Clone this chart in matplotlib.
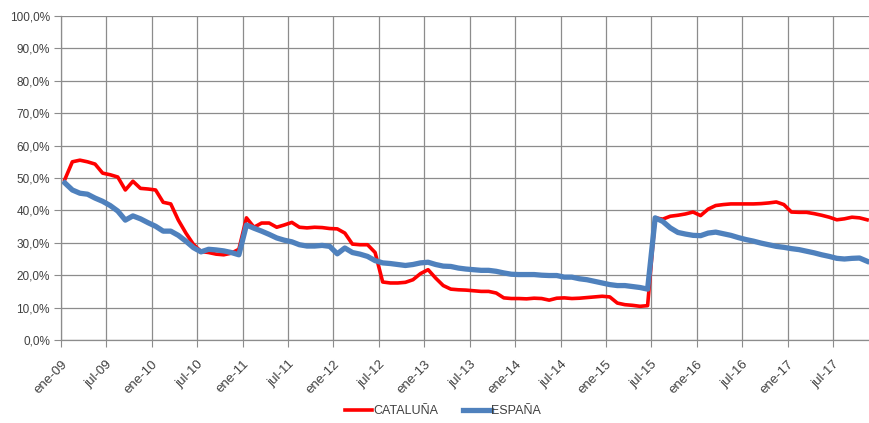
import numpy as np
import matplotlib
matplotlib.use("Agg")
import matplotlib.pyplot as plt
from matplotlib.ticker import FuncFormatter

# Monthly share (%), ene-09 .. nov-17
cataluna = [49.5, 55, 55.5, 55, 54.3, 51.5, 51, 50.3, 46.3, 49,
            46.8, 46.6, 46.3, 42.5, 42, 37, 33, 29.5, 27.3, 27,
            26.5, 26.3, 26.8, 28, 37.7, 34.8, 36.1, 36.1, 34.8, 35.5,
            36.3, 34.8, 34.6, 34.8, 34.7, 34.4, 34.3, 33, 29.6, 29.4,
            29.4, 27, 17.9, 17.6, 17.6, 17.8, 18.6, 20.5, 21.7, 19.1,
            16.8, 15.7, 15.5, 15.4, 15.2, 15, 15, 14.5, 13, 12.8,
            12.8, 12.7, 12.9, 12.8, 12.3, 12.9, 13, 12.8, 12.9, 13.1,
            13.3, 13.5, 13.3, 11.4, 10.9, 10.7, 10.4, 10.6, 37.7, 37.3,
            38.2, 38.5, 38.9, 39.5, 38.4, 40.4, 41.5, 41.8, 42, 42,
            42, 42, 42.1, 42.3, 42.6, 41.8, 39.5, 39.4, 39.4, 39,
            38.5, 37.9, 37.1, 37.4, 37.9, 37.7, 37.1]

espana = [48.5, 46.3, 45.3, 45, 43.8, 42.8, 41.5, 39.8, 37, 38.3,
          37.4, 36.2, 35.1, 33.6, 33.6, 32.3, 30.5, 28.5, 27.2, 28,
          27.8, 27.5, 27, 26.3, 35.5, 34.5, 33.6, 32.6, 31.5, 30.8,
          30.3, 29.4, 29, 29, 29.2, 28.9, 26.6, 28.4, 27, 26.5,
          25.8, 24.5, 23.8, 23.6, 23.3, 23, 23.3, 23.8, 24, 23.3,
          22.8, 22.7, 22.2, 21.9, 21.7, 21.5, 21.5, 21.2, 20.7, 20.3,
          20.2, 20.2, 20.2, 20, 19.9, 19.9, 19.4, 19.4, 18.9, 18.6,
          18.1, 17.6, 17.1, 16.8, 16.8, 16.5, 16.2, 15.7, 37.7, 36.6,
          34.6, 33.2, 32.7, 32.3, 32.2, 33, 33.3, 32.8, 32.3, 31.6,
          31, 30.5, 29.9, 29.4, 28.9, 28.6, 28.2, 27.9, 27.4, 26.9,
          26.3, 25.8, 25.2, 25, 25.2, 25.3, 24.3]

tick_labels = ["ene-09", "jul-09", "ene-10", "jul-10", "ene-11", "jul-11",
               "ene-12", "jul-12", "ene-13", "jul-13", "ene-14", "jul-14",
               "ene-15", "jul-15", "ene-16", "jul-16", "ene-17", "jul-17"]

plt.rcParams["font.family"] = ["Liberation Sans", "DejaVu Sans"]

# points sit in the middle of each month, gridlines at month starts
months = np.arange(len(cataluna)) + 0.5
tick_pos = np.arange(len(tick_labels)) * 6

fig = plt.figure(figsize=(8.69, 4.23), dpi=100)
ax = fig.add_axes([61 / 869, 1 - 340 / 423, 808 / 869, 324 / 423])

ax.plot(months, cataluna, color="#FF0000", linewidth=2.6, label="CATALUÑA",
        solid_joinstyle="round")
ax.plot(months, espana, color="#4F81BD", linewidth=3.8, label="ESPAÑA",
        solid_joinstyle="round")

ax.set_xlim(0, 106.75)
ax.set_ylim(0, 100)
ax.set_yticks(np.arange(0, 101, 10))
ax.yaxis.set_major_formatter(FuncFormatter(lambda v, p: f"{v:.1f}%".replace(".", ",")))
ax.set_xticks(tick_pos)
ax.set_xticklabels(tick_labels, rotation=45, ha="right", va="top",
                   rotation_mode="anchor")

ax.grid(True, color="#8c8c8c", linewidth=0.9)
ax.set_axisbelow(True)
for side in ["top", "right"]:
    ax.spines[side].set_visible(False)
for side in ["left", "bottom"]:
    ax.spines[side].set_color("#8c8c8c")
    ax.spines[side].set_linewidth(0.9)

ax.tick_params(axis="x", length=5, color="#8c8c8c", labelsize=9.5,
               labelcolor="#404040", pad=8)
ax.tick_params(axis="y", length=5, color="#8c8c8c", labelsize=8.5,
               labelcolor="#404040", pad=3)

fig.legend(loc="center", bbox_to_anchor=(443 / 869, 1 - 411 / 423), ncol=2,
           frameon=False, fontsize=9, handlelength=2.2, handletextpad=0.05,
           columnspacing=2.0, labelcolor="#404040")

fig.savefig("out.png", dpi=100)
